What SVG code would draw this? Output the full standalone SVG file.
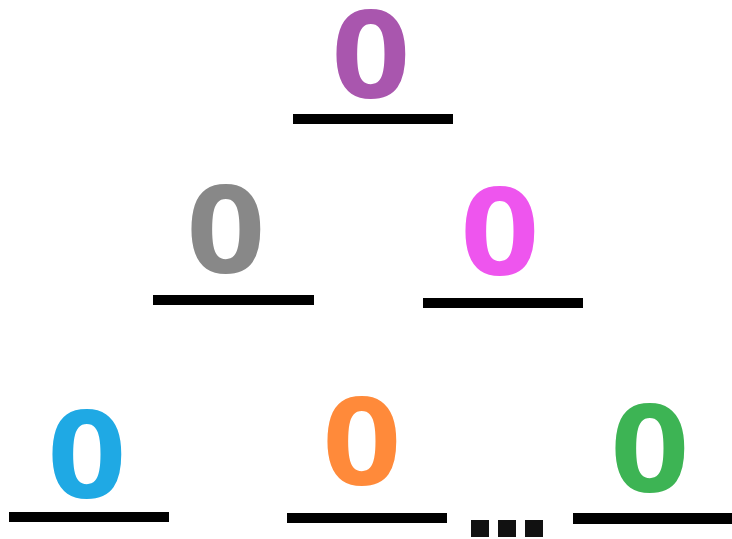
<svg xmlns="http://www.w3.org/2000/svg" width="732" height="539" viewBox="0 0 732 539">
<style>
.d{font-family:"Open Sans","DejaVu Sans",sans-serif;font-weight:750;font-size:122px;text-anchor:middle}
.bar{fill:#000}
.dot{fill:#111}
</style>
<rect width="732" height="539" fill="#fff"/>
<g id="node-top"><text class="d" transform="translate(371,98) scale(1.13,1)" fill="#A956AE">0</text><rect class="bar" x="293" y="114" width="160" height="10"/></g>
<g id="node-mid-left"><text class="d" transform="translate(226,273) scale(1.13,1)" fill="#888888">0</text><rect class="bar" x="153" y="295" width="161" height="10"/></g>
<g id="node-mid-right"><text class="d" transform="translate(500,275) scale(1.13,1)" fill="#EE55EE">0</text><rect class="bar" x="423" y="298" width="160" height="10"/></g>
<g id="node-bot-left"><text class="d" transform="translate(87,498) scale(1.13,1)" fill="#1FA9E4">0</text><rect class="bar" x="9" y="512" width="160" height="10"/></g>
<g id="node-bot-mid"><text class="d" transform="translate(362,485) scale(1.13,1)" fill="#FF8A3A">0</text><rect class="bar" x="287" y="513" width="160" height="10"/></g>
<g id="node-bot-right"><text class="d" transform="translate(650,492) scale(1.13,1)" fill="#3DB454">0</text><rect class="bar" x="573" y="513" width="159" height="11"/></g>
<g id="ellipsis"><rect class="dot" x="471" y="520" width="18" height="17"/><rect class="dot" x="498" y="520" width="18" height="17"/><rect class="dot" x="525" y="520" width="18" height="17"/></g>
<g id="connectors"></g>
</svg>
